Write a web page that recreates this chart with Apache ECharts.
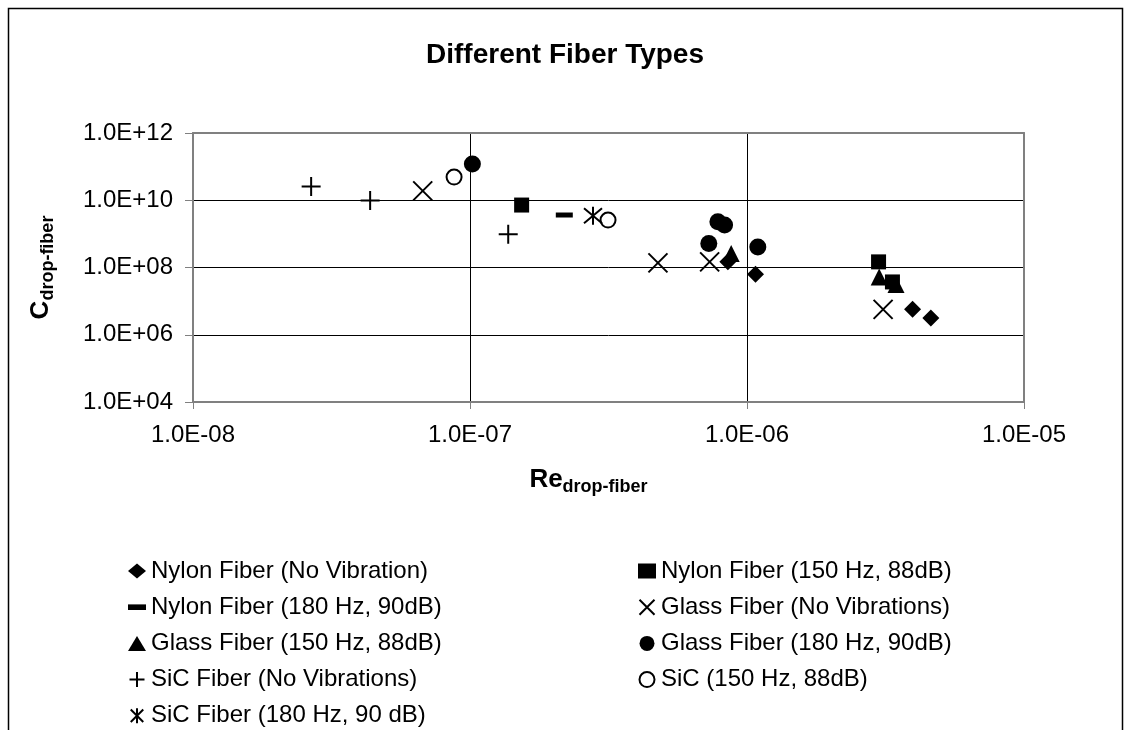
<!DOCTYPE html>
<html>
<head>
<meta charset="utf-8">
<script src="https://cdn.jsdelivr.net/npm/echarts@6/dist/echarts.min.js"></script>
<style>
    html, body { margin: 0; padding: 0; background: #fff; }
    #chart { width: 1130px; height: 730px; }
</style>
</head>
<body>
<div id="chart"></div>
<script>
// series names, in legend order
const names = [
    "Nylon Fiber (No Vibration)",
    "Nylon Fiber (150 Hz, 88dB)",
    "Nylon Fiber (180 Hz, 90dB)",
    "Glass Fiber (No Vibrations)",
    "Glass Fiber (150 Hz, 88dB)",
    "Glass Fiber (180 Hz, 90dB)",
    "SiC Fiber (No Vibrations)",
    "SiC (150 Hz, 88dB)",
    "SiC Fiber (180 Hz, 90 dB)"
];

// [Re, C] pairs
const nylonNoVib = [[8.53e-7, 1.47e8], [1.073e-6, 6.3e7], [3.96e-6, 5.7e6], [4.61e-6, 3.13e6]];
const nylon150 = [[1.536e-7, 7.2e9], [2.985e-6, 1.47e8], [3.35e-6, 3.72e7]];
const nylon180 = [[2.19e-7, 3.64e9]];
const glassNoVib = [[6.75e-8, 1.9e10], [4.77e-7, 1.37e8], [7.33e-7, 1.47e8], [3.1e-6, 5.7e6]];
const glass150 = [[8.77e-7, 2.6e8], [3.0e-6, 5.25e7], [3.45e-6, 3.1e7]];
const glass180 = [[1.02e-7, 1.19e11], [7.85e-7, 2.3e9], [8.3e-7, 1.83e9], [7.28e-7, 5.2e8], [1.094e-6, 4.1e8]];
const sicNoVib = [[2.67e-8, 2.55e10], [4.36e-8, 9.8e9], [1.374e-7, 9.7e8]];
const sic150 = [[8.76e-8, 4.9e10], [3.15e-7, 2.58e9]];
const sic180 = [[2.78e-7, 3.47e9]];

// axis ranges
const xMin = 1e-8, xMax = 1e-5;
const yMin = 1e4, yMax = 1e12;

const FONT = "'Liberation Sans', Arial, sans-serif";
const CROSS = "path://M0,0L10,10M10,0L0,10";
const PLUS = "path://M5,0L5,10M0,5L10,5";
const STAR = "path://M0,0L10,10M10,0L0,10M5,-1L5,11";
const BAR = "path://M0,0h16v5h-16z";
const GREY = "#808080";

function sciLabel(v) {
    const e = Math.round(Math.log10(v));
    return "1.0E" + (e >= 0 ? "+" : "-") + String(Math.abs(e)).padStart(2, "0");
}

function filled(name, data, symbol, size) {
    return {
        name: name,
        type: "scatter",
        data: data,
        symbol: symbol,
        symbolSize: size,
        itemStyle: {color: "#000", opacity: 1}
    };
}

function stroked(name, data, symbol, size) {
    return {
        name: name,
        type: "scatter",
        data: data,
        symbol: symbol,
        symbolSize: size,
        itemStyle: {color: "none", borderColor: "#000", borderWidth: 2, opacity: 1}
    };
}

const series = [
    filled(names[0], nylonNoVib, "diamond", 17),
    filled(names[1], nylon150, "rect", 15),
    filled(names[2], nylon180, "rect", [17, 5]),
    stroked(names[3], glassNoVib, CROSS, 19),
    filled(names[4], glass150, "triangle", 17),
    filled(names[5], glass180, "circle", 17),
    stroked(names[6], sicNoVib, PLUS, 19),
    {
        name: names[7],
        type: "scatter",
        data: sic150,
        symbol: "circle",
        symbolSize: 15,
        itemStyle: {color: "#fff", borderColor: "#000", borderWidth: 2, opacity: 1}
    },
    stroked(names[8], sic180, STAR, 18)
];

const legendBase = {
    orient: "vertical",
    padding: 0,
    height: 180,
    itemWidth: 18,
    itemHeight: 15,
    itemGap: 12.2,
    textStyle: {fontFamily: FONT, fontSize: 24, color: "#000"},
    selectedMode: false
};

const nameRich = {
    a: {fontFamily: FONT, fontSize: 26, fontWeight: "bold", color: "#000", lineHeight: 32},
    b: {fontFamily: FONT, fontSize: 18, fontWeight: "bold", color: "#000", lineHeight: 15, verticalAlign: "bottom"}
};

const option = {
    animation: false,
    backgroundColor: "#fff",
    title: {
        text: "Different Fiber Types",
        left: "center",
        top: 36,
        textStyle: {fontFamily: FONT, fontSize: 28, fontWeight: "bold", color: "#000"}
    },
    grid: {
        left: 193,
        right: 106,
        top: 133,
        bottom: 328,
        show: false
    },
    legend: [
        Object.assign({}, legendBase, {
            left: 127,
            top: 559,
            data: [
                {name: names[0]},
                {name: names[2], icon: BAR},
                {name: names[4]},
                {name: names[6]},
                {name: names[8]}
            ]
        }),
        Object.assign({}, legendBase, {
            left: 637,
            top: 559,
            data: [names[1], names[3], names[5], names[7]]
        })
    ],
    xAxis: [{
        type: "log",
        logBase: 10,
        min: xMin,
        max: xMax,
        interval: 1,
        name: "{a|Re}{b|drop-fiber}",
        nameLocation: "middle",
        nameGap: 62,
        nameTextStyle: {padding: [0, 40, 0, 0], rich: nameRich},
        axisLine: {lineStyle: {color: GREY, width: 2}},
        axisTick: {show: true, length: 7, lineStyle: {color: GREY, width: 1}},
        axisLabel: {fontFamily: FONT, fontSize: 24, color: "#000", margin: 21, formatter: sciLabel},
        splitLine: {show: true, lineStyle: {color: "#000", width: 1}},
        minorTick: {show: false}
    }, {
        // top border of the plot area
        type: "log",
        logBase: 10,
        min: xMin,
        max: xMax,
        position: "top",
        axisLine: {show: true, lineStyle: {color: GREY, width: 2}},
        axisTick: {show: false},
        axisLabel: {show: false},
        splitLine: {show: false}
    }],
    yAxis: [{
        type: "log",
        logBase: 10,
        min: yMin,
        max: yMax,
        interval: 2,
        name: "{a|C}{b|drop-fiber}",
        nameLocation: "middle",
        nameRotate: 90,
        nameGap: 136,
        nameTextStyle: {rich: nameRich},
        axisLine: {lineStyle: {color: GREY, width: 2}},
        axisTick: {show: true, length: 8, lineStyle: {color: GREY, width: 1}},
        axisLabel: {fontFamily: FONT, fontSize: 24, color: "#000", margin: 20, formatter: sciLabel},
        splitLine: {show: true, lineStyle: {color: "#000", width: 1}}
    }, {
        // right border of the plot area
        type: "log",
        logBase: 10,
        min: yMin,
        max: yMax,
        position: "right",
        axisLine: {show: true, lineStyle: {color: GREY, width: 2}},
        axisTick: {show: false},
        axisLabel: {show: false},
        splitLine: {show: false}
    }],
    graphic: [{
        type: "rect",
        silent: true,
        z: -1,
        shape: {x: 8.5, y: 8.5, width: 1114, height: 800},
        style: {fill: "none", stroke: "#000", lineWidth: 1.5}
    }],
    series: series
};

const chart = echarts.init(document.getElementById("chart"), null, {renderer: "canvas"});
chart.setOption(option);
</script>
</body>
</html>
